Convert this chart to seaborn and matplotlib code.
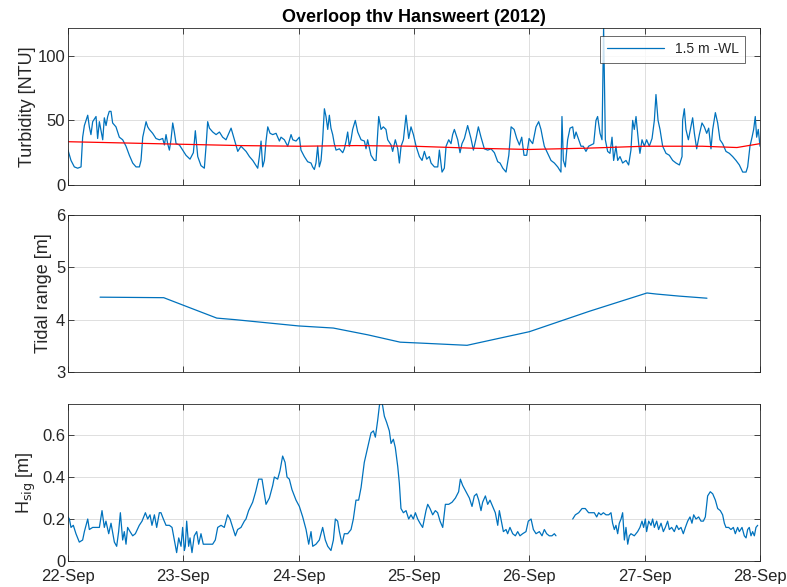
import numpy as np
import pandas as pd
import matplotlib
matplotlib.use("Agg")
import matplotlib.pyplot as plt
import seaborn as sns

# ---------------- data (days after 22-Sep-2012 00:00) ----------------
turb_day = [0.0, 0.026, 0.055, 0.084, 0.113, 0.127, 0.142, 0.171, 0.185, 0.199, 0.214, 0.243, 0.257, 0.272,
            0.301, 0.315, 0.33, 0.344, 0.358, 0.373, 0.387, 0.416, 0.445, 0.474, 0.503, 0.532, 0.561, 0.59,
            0.619, 0.633, 0.648, 0.677, 0.691, 0.705, 0.734, 0.763, 0.792, 0.821, 0.836, 0.85, 0.864, 0.879,
            0.893, 0.908, 0.922, 0.937, 0.966, 0.995,
            1.023, 1.058, 1.087, 1.104, 1.125, 1.153, 1.182, 1.197, 1.211, 1.226, 1.255, 1.284, 1.313, 1.341,
            1.370, 1.399, 1.414, 1.443, 1.472, 1.5, 1.544, 1.573, 1.602, 1.631, 1.645, 1.659, 1.674, 1.688,
            1.703, 1.717, 1.732, 1.752, 1.775, 1.804, 1.833, 1.847, 1.876, 1.905, 1.934, 1.949, 1.977, 2.006,
            2.020, 2.049, 2.078, 2.107, 2.121, 2.136, 2.150, 2.165, 2.179, 2.194, 2.208, 2.223, 2.237, 2.252,
            2.266, 2.280, 2.295, 2.309, 2.324, 2.353, 2.382, 2.396, 2.411, 2.425, 2.439, 2.454, 2.468, 2.491,
            2.512, 2.541, 2.570, 2.584, 2.598, 2.627, 2.656, 2.671, 2.694, 2.714, 2.734, 2.757, 2.772, 2.801,
            2.815, 2.838, 2.859, 2.873, 2.888, 2.908, 2.931, 2.954, 2.974, 2.995, 3.018, 3.047, 3.070, 3.090,
            3.110, 3.133, 3.148, 3.177, 3.206, 3.220, 3.243, 3.263, 3.278, 3.301, 3.321, 3.335, 3.350, 3.379,
            3.399, 3.416, 3.437, 3.465, 3.494, 3.515, 3.538, 3.558, 3.581, 3.610, 3.639, 3.668, 3.697, 3.726,
            3.746, 3.770, 3.798, 3.822, 3.842, 3.868, 3.891, 3.914, 3.934, 3.954, 3.977, 3.998, 4.012,
            4.029, 4.058, 4.081, 4.101, 4.116, 4.130, 4.159, 4.188, 4.217, 4.246, 4.274, 4.283, 4.295, 4.312,
            4.332, 4.353, 4.376, 4.390, 4.405, 4.428, 4.448, 4.468, 4.491, 4.514, 4.535, 4.558, 4.578, 4.592,
            4.613, 4.630, 4.644, 4.659, 4.679, 4.699, 4.717, 4.731, 4.751, 4.766, 4.786, 4.809, 4.838, 4.861,
            4.881, 4.896, 4.910, 4.925, 4.948, 4.959, 4.977, 4.997, 5.017, 5.040, 5.064, 5.084, 5.098, 5.116,
            5.133, 5.156, 5.185, 5.214, 5.243, 5.272, 5.301, 5.324, 5.329, 5.344, 5.358, 5.379, 5.396, 5.416,
            5.431, 5.451, 5.474, 5.497, 5.517, 5.538, 5.555, 5.575, 5.590, 5.613, 5.633, 5.653, 5.676, 5.705,
            5.734, 5.763, 5.792, 5.821, 5.850, 5.879, 5.893, 5.913, 5.931, 5.945, 5.959, 5.971, 5.985, 6.0]
turb_val = [27, 19, 14, 13, 14, 37, 46, 54, 45, 39, 49, 53, 36, 49,
            35, 52, 46, 53, 57, 57, 48, 45, 37, 35, 30, 23, 17, 14,
            14, 19, 37, 49, 45, 43, 40, 36, 35, 36, 31, 39, 32, 27,
            35, 48, 41, 32, 31, 27,
            23, 20, 25, 42, 22, 15, 13, 30, 49, 44, 41, 39, 41, 37,
            35, 41, 44, 35, 26, 30, 26, 22, 19, 15, 13, 22, 34, 14,
            19, 34, 45, 40, 39, 40, 34, 37, 35, 30, 39, 35, 34, 37,
            27, 22, 18, 17, 14, 12, 17, 30, 14, 19, 35, 59, 53, 43,
            54, 44, 39, 32, 27, 28, 25, 28, 34, 41, 30, 35, 43, 50,
            41, 35, 34, 28, 35, 23, 19, 19, 53, 43, 45, 43, 35, 31,
            26, 35, 28, 17, 30, 35, 54, 36, 45, 39, 30, 22, 19, 26,
            20, 22, 17, 14, 14, 27, 10, 13, 30, 35, 32, 39, 43, 35,
            25, 32, 36, 46, 36, 27, 36, 45, 37, 28, 27, 28, 25, 18,
            17, 13, 10, 23, 45, 43, 36, 31, 37, 23, 23, 36, 34,
            32, 45, 49, 43, 36, 30, 24.5, 19, 17, 14, 10, 53, 19, 14,
            35, 44, 45, 36, 41, 35, 30, 30, 26, 30, 31, 32, 50, 53,
            40, 35, 122, 35, 26, 24.5, 37, 19, 30, 19, 22, 17, 19, 15.5,
            27, 50, 43, 53, 32, 24.5, 35, 30, 35, 30, 36, 50, 70, 50,
            43, 30, 24.5, 23, 19, 17, 15.5, 22, 50, 59, 43, 35, 43, 52,
            40, 28, 39, 48, 45, 40, 44, 28, 43, 56, 48, 35, 32, 26,
            24.5, 22, 19, 15.5, 10, 10, 14, 30, 37, 43, 53, 37, 43, 30]

mean_day = [0.0, 0.5, 1.0, 1.5, 2.0, 2.5, 3.0, 3.5, 4.0, 4.5, 5.0, 5.5, 5.8, 6.0]
mean_val = [33.5, 32.5, 31.5, 30.5, 30.0, 30.5, 30.0, 28.5, 27.5, 28.5, 30.0, 30.0, 29.0, 32.0]

tide_day = [0.278, 0.83, 1.03, 1.29, 1.45, 2.0, 2.3, 2.6, 2.88, 3.08, 3.46, 4.0, 4.52, 5.02, 5.1, 5.3, 5.54]
tide_val = [4.43, 4.42, 4.25, 4.03, 4.0, 3.88, 3.84, 3.71, 3.57, 3.55, 3.51, 3.77, 4.16, 4.51, 4.49, 4.45, 4.41]

hs_day_a = [0.0, 0.012, 0.026, 0.046, 0.069, 0.098, 0.127, 0.142, 0.171, 0.185, 0.214, 0.243, 0.272, 0.295,
            0.315, 0.329, 0.353, 0.373, 0.402, 0.422, 0.439, 0.454, 0.474, 0.488, 0.503, 0.517, 0.538, 0.561,
            0.584, 0.618, 0.642, 0.671, 0.691, 0.711, 0.728, 0.749, 0.769, 0.792, 0.806, 0.827, 0.850, 0.879,
            0.902, 0.922, 0.942, 0.960, 0.980, 0.994, 1.009, 1.017, 1.029, 1.046, 1.058, 1.075, 1.095, 1.116,
            1.133, 1.153, 1.173, 1.197, 1.225, 1.254, 1.277, 1.298, 1.327, 1.355, 1.384, 1.405, 1.428, 1.451,
            1.471, 1.500, 1.529, 1.543, 1.566, 1.601, 1.627, 1.653, 1.682, 1.702, 1.717, 1.746, 1.775, 1.789,
            1.818, 1.838, 1.861, 1.882, 1.899, 1.919, 1.942, 1.977, 2.006,
            2.035, 2.064, 2.087, 2.107, 2.122, 2.150, 2.179, 2.208, 2.231, 2.252, 2.280, 2.301, 2.318, 2.338,
            2.353, 2.376, 2.396, 2.425, 2.454, 2.474, 2.497, 2.520, 2.541, 2.569, 2.598, 2.627, 2.648, 2.665,
            2.685, 2.700, 2.714, 2.728, 2.743, 2.763, 2.786, 2.801, 2.821, 2.838, 2.859, 2.873, 2.887, 2.908,
            2.931, 2.954, 2.974, 2.994, 3.012, 3.032, 3.052, 3.075, 3.104, 3.119, 3.139, 3.162, 3.185, 3.205,
            3.226, 3.249, 3.272, 3.301, 3.330, 3.359, 3.387, 3.402, 3.422, 3.451, 3.480, 3.503, 3.523, 3.543,
            3.561, 3.581, 3.595, 3.619, 3.639, 3.659, 3.682, 3.705, 3.726, 3.740, 3.754, 3.775, 3.798, 3.812,
            3.832, 3.856, 3.879, 3.899, 3.919, 3.942, 3.971, 3.991, 4.015,
            4.035, 4.058, 4.087, 4.110, 4.130, 4.150, 4.173, 4.196, 4.217, 4.231]
hs_val_a = [0.21, 0.20, 0.16, 0.17, 0.13, 0.09, 0.10, 0.14, 0.20, 0.15, 0.16, 0.16, 0.16, 0.24,
            0.16, 0.19, 0.13, 0.18, 0.09, 0.07, 0.14, 0.23, 0.10, 0.14, 0.08, 0.16, 0.14, 0.12,
            0.13, 0.17, 0.19, 0.23, 0.20, 0.22, 0.17, 0.22, 0.16, 0.23, 0.23, 0.20, 0.17, 0.17,
            0.16, 0.10, 0.04, 0.11, 0.07, 0.16, 0.05, 0.07, 0.19, 0.07, 0.11, 0.04, 0.12, 0.14,
            0.08, 0.13, 0.08, 0.08, 0.08, 0.08, 0.10, 0.16, 0.17, 0.16, 0.22, 0.20, 0.16, 0.12,
            0.15, 0.16, 0.19, 0.20, 0.24, 0.28, 0.33, 0.39, 0.39, 0.32, 0.27, 0.30, 0.36, 0.40,
            0.39, 0.43, 0.50, 0.47, 0.40, 0.39, 0.34, 0.29, 0.26,
            0.21, 0.15, 0.08, 0.14, 0.07, 0.08, 0.10, 0.16, 0.10, 0.07, 0.05, 0.10, 0.20, 0.19,
            0.14, 0.08, 0.13, 0.13, 0.15, 0.20, 0.29, 0.29, 0.35, 0.47, 0.54, 0.61, 0.62, 0.59,
            0.67, 0.74, 0.77, 0.74, 0.69, 0.66, 0.62, 0.56, 0.58, 0.54, 0.45, 0.37, 0.25, 0.23,
            0.24, 0.20, 0.22, 0.20, 0.23, 0.20, 0.18, 0.16, 0.24, 0.27, 0.25, 0.22, 0.24, 0.23,
            0.19, 0.16, 0.27, 0.27, 0.28, 0.30, 0.33, 0.39, 0.36, 0.33, 0.30, 0.26, 0.31, 0.32,
            0.29, 0.24, 0.28, 0.31, 0.27, 0.29, 0.26, 0.23, 0.17, 0.24, 0.20, 0.14, 0.15, 0.13,
            0.16, 0.13, 0.12, 0.14, 0.12, 0.13, 0.14, 0.19, 0.20,
            0.15, 0.13, 0.14, 0.12, 0.15, 0.13, 0.12, 0.12, 0.13, 0.12]

hs_day_b = [4.376, 4.399, 4.428, 4.457, 4.485, 4.514, 4.543, 4.563, 4.584, 4.601, 4.621, 4.642, 4.665, 4.688,
            4.708, 4.722, 4.737, 4.751, 4.766, 4.780, 4.795, 4.809, 4.824, 4.838, 4.853, 4.867, 4.881, 4.910,
            4.939, 4.959, 4.977, 4.991, 5.006, 5.017, 5.035, 5.055, 5.069, 5.084, 5.104, 5.121, 5.142, 5.162,
            5.179, 5.199, 5.214, 5.234, 5.257, 5.277, 5.295, 5.315, 5.335, 5.353, 5.373, 5.393, 5.410, 5.425,
            5.445, 5.468, 5.488, 5.509, 5.526, 5.546, 5.569, 5.590, 5.613, 5.633, 5.656, 5.676, 5.691, 5.705,
            5.728, 5.748, 5.769, 5.786, 5.806, 5.821, 5.844, 5.864, 5.879, 5.893, 5.907, 5.922, 5.936, 5.951,
            5.965, 5.980]
hs_val_b = [0.20, 0.22, 0.23, 0.25, 0.25, 0.23, 0.23, 0.23, 0.21, 0.23, 0.22, 0.23, 0.22, 0.22,
            0.23, 0.18, 0.15, 0.17, 0.13, 0.18, 0.20, 0.23, 0.10, 0.16, 0.08, 0.12, 0.13, 0.12,
            0.14, 0.16, 0.19, 0.16, 0.20, 0.14, 0.19, 0.17, 0.20, 0.16, 0.19, 0.15, 0.18, 0.14,
            0.16, 0.19, 0.15, 0.16, 0.14, 0.17, 0.15, 0.16, 0.13, 0.16, 0.19, 0.21, 0.18, 0.22,
            0.20, 0.21, 0.19, 0.19, 0.21, 0.31, 0.33, 0.32, 0.29, 0.25, 0.24, 0.22, 0.18, 0.16,
            0.16, 0.15, 0.16, 0.13, 0.16, 0.14, 0.16, 0.12, 0.11, 0.15, 0.16, 0.12, 0.14, 0.12,
            0.16, 0.17]

day_labels = ["22-Sep", "23-Sep", "24-Sep", "25-Sep", "26-Sep", "27-Sep", "28-Sep"]
title = "Overloop thv Hansweert (2012)"
legend_label = "1.5 m -WL"

# ---------------- style ----------------
sns.set_theme(style="whitegrid")
plt.rcParams["font.family"] = ["Liberation Sans", "DejaVu Sans"]
BLUE = "#0072BD"
AXC = "#262626"

fig = plt.figure(figsize=(7.87, 5.87), dpi=100)
L, W = 68 / 787, 692 / 787
H = 157 / 587
ax1 = fig.add_axes([L, 1 - 185 / 587, W, H])
ax2 = fig.add_axes([L, 1 - 372 / 587, W, H])
ax3 = fig.add_axes([L, 1 - 561 / 587, W, H])

df_t = pd.DataFrame({"day": turb_day, "val": np.minimum(turb_val, 125)})
df_m = pd.DataFrame({"day": mean_day, "val": mean_val})
df_r = pd.DataFrame({"day": tide_day, "val": tide_val})
df_h = pd.DataFrame({"day": hs_day_a + hs_day_b,
                     "val": hs_val_a + hs_val_b,
                     "seg": [0] * len(hs_day_a) + [1] * len(hs_day_b)})

sns.lineplot(data=df_t, x="day", y="val", ax=ax1, color=BLUE, lw=0.9, label=legend_label,
             estimator=None, sort=False)
sns.lineplot(data=df_m, x="day", y="val", ax=ax1, color="#FF0000", lw=0.9, estimator=None, legend=False)
sns.lineplot(data=df_r, x="day", y="val", ax=ax2, color=BLUE, lw=0.9, estimator=None)
sns.lineplot(data=df_h, x="day", y="val", units="seg", ax=ax3, color=BLUE, lw=0.9, estimator=None)

ax1.set_ylim(0, 121.5)
ax1.set_yticks([0, 50, 100])
ax2.set_ylim(3, 6)
ax2.set_yticks([3, 4, 5, 6])
ax3.set_ylim(0, 0.748)
ax3.set_yticks([0, 0.2, 0.4, 0.6])
ax3.set_yticklabels(["0", "0.2", "0.4", "0.6"])

for ax in (ax1, ax2, ax3):
    ax.set_xlim(0, 6)
    ax.set_xticks(range(7))
    ax.set_facecolor("white")
    ax.grid(True, color="#d9d9d9", lw=0.6)
    for s in ax.spines.values():
        s.set_color(AXC)
        s.set_linewidth(0.6)
    ax.tick_params(direction="in", length=4, width=0.6, colors=AXC, labelsize=12,
                   top=True, right=True, left=True, bottom=True)
    ax.tick_params(axis="y", pad=2)
    ax.tick_params(axis="x", pad=6)
    ax.set_xlabel("")

ax1.set_xticklabels([])
ax2.set_xticklabels([])
ax3.set_xticklabels(day_labels)

ax1.set_ylabel("Turbidity [NTU]", fontsize=13, color=AXC, labelpad=1)
ax2.set_ylabel("Tidal range [m]", fontsize=13, color=AXC, labelpad=3)
ax3.set_ylabel(r"H$_{\mathrm{sig}}$ [m]", fontsize=13, color=AXC, labelpad=3)
ax1.set_title(title, fontsize=13, fontweight="bold", color="black", pad=4)

leg = ax1.legend(loc="upper right", bbox_to_anchor=((745 - 68) / 692, (185 - 36) / 157),
                 handlelength=4.1, fontsize=10, frameon=True, fancybox=False,
                 borderaxespad=0.0, borderpad=0.45)
leg.get_frame().set_edgecolor(AXC)
leg.get_frame().set_linewidth(0.6)
for t in leg.get_texts():
    t.set_color(AXC)

fig.savefig("out.png", dpi=100, facecolor="white")
